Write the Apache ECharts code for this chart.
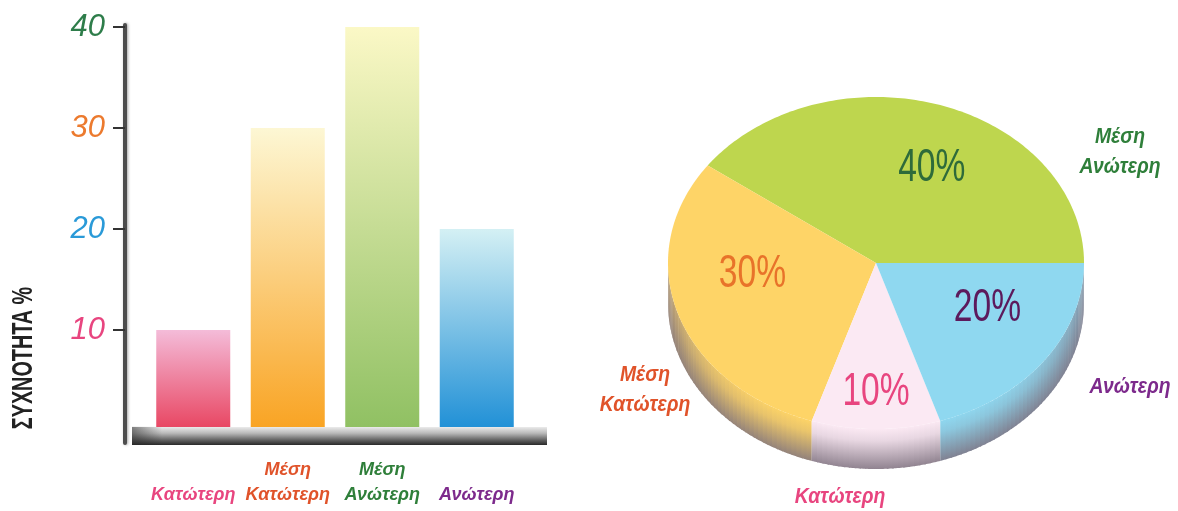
<!DOCTYPE html>
<html>
<head>
<meta charset="utf-8">
<script src="https://cdn.jsdelivr.net/npm/echarts@6/dist/echarts.min.js"></script>
<style>
  html, body { margin: 0; padding: 0; background: #ffffff; }
  #chart { width: 1178px; height: 511px; }
</style>
</head>
<body>
<div id="chart"></div>
<script>
// Education level categories and their frequency (%)
const categories = ['Κατώτερη', 'Μέση Κατώτερη', 'Μέση Ανώτερη', 'Ανώτερη'];
const frequency = [10, 30, 40, 20];
const yTickValues = [10, 20, 30, 40];
const yAxisTitle = 'ΣΥΧΝΟΤΗΤΑ %';
// Pie slices run counter-clockwise from the 3 o'clock position in this order
const pieOrder = [2, 1, 0, 3];

// Styling
const FONT = '"Liberation Sans", Arial, sans-serif';
const categoryColors = ['#e8457f', '#e0532a', '#2f7f3a', '#7d2a8c'];
const tickColors = { 10: '#e8457f', 20: '#2a9ad8', 30: '#ec7a2e', 40: '#2e7d4a' };
const barGradients = [
  ['#f4bcd9', '#e8435f'],
  ['#fdf7d4', '#f9a322'],
  ['#fbf8c6', '#8fc062'],
  ['#d4f0f4', '#1e8fd6']
];
const sliceColors = ['#fbe9f3', '#fed467', '#bed64e', '#8fd8f0'];
const percentColors = ['#e8457f', '#e8732a', '#2e6b3a', '#5c1a5c'];

// Pie layout (elliptical top face plus an extruded rim)
const pie = { cx: 876, cy: 263, rx: 208, ry: 166, depth: 40, labelFrac: 0.65 };
const percentShift = [[0, 21], [5, -22], [14, 8], [2, -18]];             // per category
const outerLabelPos = [[-36, 234], [-231, 127], [244, -111], [254, 124]]; // per category, from centre

function hexToRgb(h) {
  const n = parseInt(h.slice(1), 16);
  return [(n >> 16) & 255, (n >> 8) & 255, n & 255];
}
function mix(a, b, t) {
  const A = hexToRgb(a), B = hexToRgb(b);
  const c = A.map((v, i) => Math.round(v + (B[i] - v) * t));
  return 'rgb(' + c.join(',') + ')';
}
function ellipsePt(tDeg, dy) {
  const t = tDeg * Math.PI / 180;
  return [pie.cx + pie.rx * Math.cos(t), pie.cy - pie.ry * Math.sin(t) + (dy || 0)];
}

const total = frequency.reduce((s, v) => s + v, 0);
// start / end angle (degrees, counter-clockwise from east) for each category
const sliceAngles = {};
(function () {
  let a = 0;
  pieOrder.forEach(ci => {
    const sweep = frequency[ci] / total * 360;
    sliceAngles[ci] = [a, a + sweep];
    a += sweep;
  });
})();

function renderSlice(params, api) {
  const ci = api.value(0);
  const value = api.value(1);
  const [a0, a1] = sliceAngles[ci];
  const color = sliceColors[ci];
  const children = [];

  // Visible rim: only the part of the slice facing the viewer (180°..360°)
  const w0 = Math.max(a0, 180), w1 = Math.min(a1, 360);
  if (w1 > w0) {
    const step = 1.5;
    for (let t = w0; t < w1; t += step) {
      const t2 = Math.min(t + step + 0.4, w1);
      const pts = [];
      for (let k = 0; k <= 4; k++) pts.push(ellipsePt(t + (t2 - t) * k / 4, 0));
      for (let k = 4; k >= 0; k--) pts.push(ellipsePt(t + (t2 - t) * k / 4, pie.depth));
      const side = Math.pow(Math.abs(Math.cos((t + t2) / 2 * Math.PI / 180)), 5);
      const grey = '#7d717f';
      children.push({
        type: 'polygon',
        z2: 1,
        shape: { points: pts },
        style: {
          fill: new echarts.graphic.LinearGradient(0, 0, 0, 1, [
            { offset: 0, color: mix(color, grey, 0.55 * side) },
            { offset: 0.3, color: mix(color, grey, 0.15 + 0.5 * side) },
            { offset: 1, color: mix(color, grey, 0.85) }
          ])
        }
      });
    }
  }

  // Top face
  const face = [[pie.cx, pie.cy]];
  const n = Math.max(8, Math.ceil((a1 - a0) / 1));
  for (let k = 0; k <= n; k++) face.push(ellipsePt(a0 + (a1 - a0) * k / n, 0));
  children.push({ type: 'polygon', z2: 5, shape: { points: face }, style: { fill: color } });

  // Percentage inside the slice
  const mid = (a0 + a1) / 2 * Math.PI / 180;
  const px = pie.cx + pie.rx * pie.labelFrac * Math.cos(mid) + percentShift[ci][0];
  const py = pie.cy - pie.ry * pie.labelFrac * Math.sin(mid) + percentShift[ci][1];
  children.push({
    type: 'text', z2: 10, x: px, y: py, scaleX: 0.73,
    style: {
      text: Math.round(value / total * 100) + '%',
      fill: percentColors[ci],
      fontFamily: FONT, fontSize: 46,
      align: 'center', verticalAlign: 'middle'
    }
  });

  // Category name outside the pie
  children.push({
    type: 'text', z2: 10, scaleX: 0.88,
    x: pie.cx + outerLabelPos[ci][0], y: pie.cy + outerLabelPos[ci][1],
    style: {
      text: categories[ci].replace(' ', '\n'),
      fill: categoryColors[ci],
      fontFamily: FONT, fontSize: 22, fontStyle: 'italic', fontWeight: 'bold',
      lineHeight: 30,
      align: 'center', verticalAlign: 'middle'
    }
  });
  return { type: 'group', children: children };
}

const chart = echarts.init(document.getElementById('chart'), null, { renderer: 'canvas' });

const option = {
  animation: false,
  backgroundColor: '#ffffff',
  grid: { left: 146, width: 378, top: 25, bottom: 68 },
  xAxis: {
    type: 'category',
    data: categories,
    axisLine: { show: false },
    axisTick: { show: false },
    axisLabel: {
      interval: 0,
      margin: 65,
      verticalAlign: 'bottom',
      lineHeight: 25,
      fontFamily: FONT,
      fontSize: 18,
      fontStyle: 'italic',
      fontWeight: 'bold',
      color: (v, i) => categoryColors[i],
      formatter: v => v.replace(' ', '\n')
    }
  },
  yAxis: {
    type: 'value',
    min: -1.2,
    max: 40.2,
    offset: 21,
    splitLine: { show: false },
    axisLine: {
      show: true,
      lineStyle: { color: '#4d4d4d', width: 4, shadowColor: 'rgba(0,0,0,0.35)', shadowBlur: 3, shadowOffsetX: 1 }
    },
    axisTick: {
      show: true, length: 12, customValues: yTickValues,
      lineStyle: { color: '#333', width: 2 }
    },
    axisLabel: {
      customValues: yTickValues,
      margin: 20,
      fontFamily: FONT,
      fontSize: 31,
      fontStyle: 'italic',
      color: v => tickColors[v] || '#333'
    }
  },
  series: [
    {
      type: 'bar',
      barWidth: 74,
      data: frequency.map((v, i) => ({
        value: v,
        itemStyle: {
          color: new echarts.graphic.LinearGradient(0, 0, 0, 1, [
            { offset: 0, color: barGradients[i][0] },
            { offset: 1, color: barGradients[i][1] }
          ])
        }
      }))
    },
    {
      type: 'custom',
      coordinateSystem: 'none',
      silent: true,
      renderItem: renderSlice,
      data: pieOrder.map(ci => [ci, frequency[ci]])
    }
  ]
};
chart.setOption(option);

// Base slab under the bars and the rotated axis title
const y0 = chart.convertToPixel({ yAxisIndex: 0 }, 0);
chart.setOption({
  graphic: [
    {
      type: 'rect', z: 50,
      shape: { x: 132, y: y0 - 4, width: 415, height: 18 },
      style: {
        fill: new echarts.graphic.LinearGradient(0, 0, 0, 1, [
          { offset: 0, color: '#ececec' },
          { offset: 0.35, color: '#b9b9b9' },
          { offset: 0.75, color: '#5e5e5e' },
          { offset: 1, color: '#2a2a2a' }
        ])
      }
    },
    {
      type: 'rect', z: 51,
      shape: { x: 132, y: y0 - 4, width: 30, height: 18 },
      style: {
        fill: new echarts.graphic.LinearGradient(0, 0, 1, 0, [
          { offset: 0, color: 'rgba(40,40,40,0.55)' },
          { offset: 1, color: 'rgba(40,40,40,0)' }
        ])
      }
    },
    {
      type: 'text', z: 50,
      x: 24, y: 358, rotation: Math.PI / 2, scaleX: 0.66,
      style: {
        text: yAxisTitle,
        fill: '#222',
        fontFamily: FONT, fontSize: 30, fontWeight: 'bold',
        align: 'center', verticalAlign: 'middle'
      }
    }
  ]
});
</script>
</body>
</html>
